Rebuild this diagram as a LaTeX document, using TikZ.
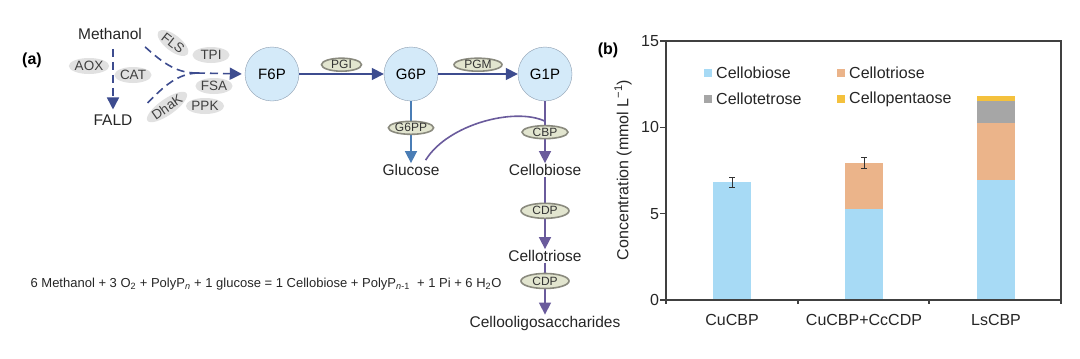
\documentclass[tikz,border=0pt]{standalone}
\usepackage{fontspec}
\setmainfont{Liberation Sans}
\usepackage{tikz}
\usetikzlibrary{arrows.meta,shapes.geometric}
\definecolor{flowblue}{HTML}{3D4C8F}
\definecolor{glublue}{HTML}{4A7DB5}
\definecolor{cellpurple}{HTML}{6A5B9C}
\definecolor{metfill}{HTML}{D4EAF9}
\definecolor{metline}{HTML}{8C9DB0}
\definecolor{enzgray}{HTML}{E1E1E1}
\definecolor{enzfill}{HTML}{E2E5CF}
\definecolor{enzline}{HTML}{8A8A7E}
\definecolor{barblue}{HTML}{A7DAF5}
\definecolor{bartan}{HTML}{EBB48A}
\definecolor{bargray}{HTML}{A6A6A6}
\definecolor{baryellow}{HTML}{F4C13D}
\definecolor{axisgray}{HTML}{404040}

\begin{document}
\begin{tikzpicture}[x=1pt, y=-1pt, >={Triangle[length=12pt,width=12pt]},
    metab/.style={circle, draw=metline, fill=metfill, minimum size=54pt, inner sep=0pt, font=\fontsize{15}{18}\selectfont},
    lbl/.style={inner sep=1pt, text=black!85, font=\fontsize{15.5}{18}\selectfont},
    enzgr/.style={ellipse, fill=enzgray, inner sep=0pt, minimum width=37pt, minimum height=16pt, text=black!75, font=\fontsize{13.5}{16}\selectfont},
    enz/.style={ellipse, draw=enzline, fill=enzfill, inner sep=0pt, minimum width=40pt, minimum height=13pt, text=black!80, font=\fontsize{12}{14}\selectfont},
    flow/.style={flowblue, line width=1.6pt},
    dflow/.style={flow, dash pattern=on 8pt off 5pt},
    chart/.style={text=black!85, font=\fontsize{16}{19}\selectfont}]
    \fill[white] (0,0) rectangle (1080,359);
    \useasboundingbox (0,0) rectangle (1080,359);

    % Panel (a)
    \node[font=\bfseries\fontsize{16}{19}\selectfont] (pa) at (32,60) {(a)};
    \node[lbl] (methanol) at (110,34) {Methanol};
    \node[lbl] (fald) at (113,120) {FALD};
    \node[metab] (f6p) at (272,74) {F6P};
    \node[metab] (g6p) at (411,74) {G6P};
    \node[metab] (g1p) at (545,74) {G1P};
    \node[lbl] (glucose) at (411,170) {Glucose};
    \node[lbl] (cellobiose) at (545,170) {Cellobiose};
    \node[lbl] (cellotriose) at (545,256) {Cellotriose};
    \node[lbl] (oligo) at (545,323) {Cellooligosaccharides};

    % Methanol assimilation (dashed)
    \coordinate (junc) at (197,73);
    \draw[dflow, ->] ([yshift=-8pt]methanol.south -| fald.north) -- ([yshift=4pt]fald.north);
    \draw[dflow] ([xshift=2pt,yshift=-6pt]methanol.south east) .. controls (165,65) and (178,73) .. (junc);
    \draw[dflow] ([xshift=14pt,yshift=17pt]fald.east) .. controls (165,85) and (178,74) .. (junc);
    \draw[dflow, ->, shorten >=3pt] (junc) -- (f6p.west);

    % Left enzymes
    \node[enzgr] (aox) at (89,66) {AOX};
    \node[enzgr] (cat) at (133,75) {CAT};
    \node[enzgr, rotate=-38] (fls) at (173,43) {FLS};
    \node[enzgr] (tpi) at (211,55) {TPI};
    \node[enzgr] (fsa) at (214,86) {FSA};
    \node[enzgr, rotate=35] (dhak) at (167,107) {DhaK};
    \node[enzgr, minimum width=33pt] (ppk) at (205,106) {PPK};

    % Phosphorylation and isomerisation
    \draw[flow, ->] (f6p) -- node[enz, above=2pt] (pgi) {PGI} (g6p);
    \draw[flow, ->] (g6p) -- node[enz, above=2pt, minimum width=48pt] (pgm) {PGM} (g1p);
    \draw[glublue, line width=1.6pt, ->] (g6p) -- node[enz, pos=0.43] (g6pp) {G6PP} (glucose);

    % Cellobiose and cellooligosaccharides
    \draw[cellpurple, line width=1.6pt] ([xshift=-15pt,yshift=3pt]glucose.north east) .. controls (448,124) and (515,107) .. ([yshift=-20pt]g1p.south);
    \draw[cellpurple, line width=1.6pt, ->] (g1p) -- node[enz, pos=0.5, minimum width=46pt] (cbp) {CBP} (cellobiose);
    \draw[cellpurple, line width=1.6pt, ->] (cellobiose) -- node[enz, pos=0.47, minimum width=48pt, minimum height=15pt] (cdpa) {CDP} (cellotriose);
    \draw[cellpurple, line width=1.6pt, ->] (cellotriose) -- node[enz, pos=0.35, minimum width=48pt, minimum height=15pt] (cdpb) {CDP} (oligo);

    % Overall equation
    \node[text=black!85, font=\fontsize{13}{16}\selectfont] (eq) at (266,284) {6 Methanol + 3 O\textsubscript{2} + PolyP\textsubscript{\itshape n} + 1 glucose = 1 Cellobiose + PolyP\textsubscript{{\itshape n}-1}\ \ + 1 Pi + 6 H\textsubscript{2}O};

    % Panel (b)
    \node[font=\bfseries\fontsize{16}{19}\selectfont] (pb) at (608,50) {(b)};
    \begin{scope}[shift={(0,300)}, y=17.27pt]
        % Bars
        \fill[barblue] (713,0) rectangle (751,6.83);
        \fill[barblue] (845,0) rectangle (883,5.27);
        \fill[bartan] (845,5.27) rectangle (883,7.93);
        \fill[barblue] (977,0) rectangle (1015,6.95);
        \fill[bartan] (977,6.95) rectangle (1015,10.25);
        \fill[bargray] (977,10.25) rectangle (1015,11.5);
        \fill[baryellow] (977,11.5) rectangle (1015,11.8);
        % Error bars
        \draw[black!80, line width=1pt] (732,6.54) -- (732,7.12) (729,6.54) -- (735,6.54) (729,7.12) -- (735,7.12);
        \draw[black!80, line width=1pt] (864,7.59) -- (864,8.28) (861,7.59) -- (867,7.59) (861,8.28) -- (867,8.28);
        % Frame and ticks
        \draw[axisgray, line width=1.3pt] (666,0) rectangle (1061,15);
        \foreach \v in {0,5,10,15}
            \draw[axisgray, line width=1.3pt] (660,\v) -- (666,\v) node[chart, left=3pt] {\v};
        \foreach \x in {666,798,929,1061}
            \draw[axisgray, line width=1.3pt] (\x,0) -- (\x,-0.25);
    \end{scope}
    \node[chart, rotate=90] (ylab) at (623,170) {Concentration (mmol L\textsuperscript{−1})};
    \node[chart] (x1) at (732,320) {CuCBP};
    \node[chart] (x2) at (864,320) {CuCBP+CcCDP};
    \node[chart] (x3) at (996,320) {LsCBP};

    % Legend
    \fill[barblue] (704,69) rectangle (712,77);
    \node[chart, anchor=west, inner sep=0pt] (lg1) at (716,73) {Cellobiose};
    \fill[bartan] (837,69) rectangle (845,77);
    \node[chart, anchor=west, inner sep=0pt] (lg2) at (849,73) {Cellotriose};
    \fill[bargray] (704,95) rectangle (712,103);
    \node[chart, anchor=west, inner sep=0pt] (lg3) at (716,99) {Cellotetrose};
    \fill[baryellow] (837,95) rectangle (845,103);
    \node[chart, anchor=west, inner sep=0pt] (lg4) at (849,99) {Cellopentaose};
\end{tikzpicture}
\end{document}
